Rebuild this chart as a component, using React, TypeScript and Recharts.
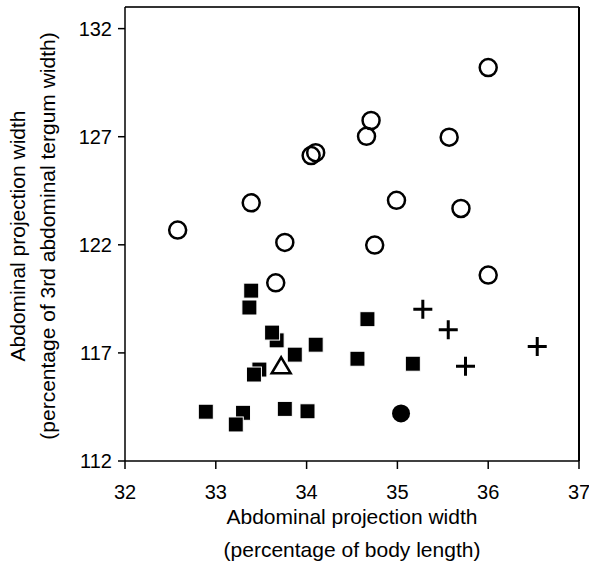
import React from "react";
import {
  ScatterChart,
  Scatter,
  XAxis,
  YAxis,
  ReferenceLine,
} from "recharts";

interface Pt {
  x: number;
  y: number;
}

// open circles
const openCircles: Pt[] = [
  { x: 32.58, y: 122.68 },
  { x: 33.39, y: 123.94 },
  { x: 33.76, y: 122.11 },
  { x: 33.66, y: 120.24 },
  { x: 34.05, y: 126.13 },
  { x: 34.1, y: 126.26 },
  { x: 34.66, y: 127.02 },
  { x: 34.71, y: 127.75 },
  { x: 34.75, y: 121.99 },
  { x: 34.99, y: 124.06 },
  { x: 35.57, y: 126.98 },
  { x: 35.7, y: 123.68 },
  { x: 36.0, y: 130.2 },
  { x: 36.0, y: 120.6 },
];

// filled squares (hidden ones first)
const squares: Pt[] = [
  { x: 33.67, y: 117.58 },
  { x: 33.48, y: 116.23 },
  { x: 33.3, y: 114.23 },
  { x: 33.39, y: 119.88 },
  { x: 33.37, y: 119.1 },
  { x: 33.62, y: 117.94 },
  { x: 34.1, y: 117.38 },
  { x: 33.87, y: 116.92 },
  { x: 34.67, y: 118.56 },
  { x: 34.56, y: 116.73 },
  { x: 33.42, y: 116.0 },
  { x: 32.89, y: 114.28 },
  { x: 33.22, y: 113.69 },
  { x: 33.76, y: 114.41 },
  { x: 34.01, y: 114.3 },
  { x: 35.17, y: 116.5 },
];

const triangles: Pt[] = [{ x: 33.72, y: 116.38 }];

const filledCircles: Pt[] = [{ x: 35.04, y: 114.2 }];

const crosses: Pt[] = [
  { x: 35.28, y: 119.02 },
  { x: 35.56, y: 118.07 },
  { x: 36.54, y: 117.3 },
  { x: 35.75, y: 116.38 },
];

const xTicks = [32, 33, 34, 35, 36, 37];
const yTicks = [112, 117, 122, 127, 132];

const font = "Arial, 'Liberation Sans', sans-serif";

const OpenCircle = (p: any) => (
  <circle cx={p.cx} cy={p.cy} r={8.5} fill="none" stroke="#000" strokeWidth={2.5} />
);
const FilledCircle = (p: any) => <circle cx={p.cx} cy={p.cy} r={9} fill="#000" />;
const Square = (p: any) => (
  <rect x={p.cx - 7.5} y={p.cy - 7.5} width={15} height={15} fill="#000" stroke="#fff" strokeWidth={1} />
);
const Triangle = (p: any) => (
  <path
    d={`M${p.cx},${p.cy - 9} L${p.cx + 9.5},${p.cy + 7} L${p.cx - 9.5},${p.cy + 7} Z`}
    fill="none"
    stroke="#000"
    strokeWidth={2.5}
    strokeLinejoin="miter"
  />
);
const Cross = (p: any) => (
  <path
    d={`M${p.cx - 9.5},${p.cy} H${p.cx + 9.5} M${p.cx},${p.cy - 9.5} V${p.cy + 9.5}`}
    stroke="#000"
    strokeWidth={3}
  />
);

const XLabel = (props: any) => {
  const vb = props.viewBox;
  const cx = vb.x + vb.width / 2;
  return (
    <g fontFamily={font} fontSize={21} fill="#000">
      <text x={cx} y={524} textAnchor="middle">
        Abdominal projection width
      </text>
      <text x={cx} y={557} textAnchor="middle">
        (percentage of body length)
      </text>
    </g>
  );
};

const YLabel = () => {
  const cy = 236;
  return (
    <g fontFamily={font} fontSize={21} fill="#000">
      <text x={17} y={cy} textAnchor="middle" dominantBaseline="central" transform={`rotate(-90 17 ${cy})`}>
        Abdominal projection width
      </text>
      <text x={47} y={cy} textAnchor="middle" dominantBaseline="central" transform={`rotate(-90 47 ${cy})`}>
        (percentage of 3rd abdominal tergum width)
      </text>
    </g>
  );
};

const tickStyle = { fontSize: 20, fontFamily: font, fill: "#000" };

export default function App() {
  return (
    <div style={{ position: "absolute", left: 0, top: 0, background: "#fff" }}>
      <ScatterChart
        width={589}
        height={566}
        margin={{ top: 7, right: 10, bottom: 0, left: 0 }}
      >
        <XAxis
          type="number"
          dataKey="x"
          domain={[32, 37]}
          ticks={xTicks}
          interval={0}
          height={105}
          tickSize={8}
          tickMargin={16}
          tick={tickStyle}
          axisLine={{ stroke: "#000", strokeWidth: 1.5 }}
          tickLine={{ stroke: "#000", strokeWidth: 1.5 }}
          allowDataOverflow
          label={{ content: XLabel }}
        />
        <YAxis
          type="number"
          dataKey="y"
          domain={[112, 133]}
          ticks={yTicks}
          interval={0}
          width={125}
          tickSize={7}
          tickMargin={6}
          tick={tickStyle}
          axisLine={{ stroke: "#000", strokeWidth: 1.5 }}
          tickLine={{ stroke: "#000", strokeWidth: 1.5 }}
          allowDataOverflow
          label={{ content: YLabel }}
        />
        <ReferenceLine y={133} stroke="#333" strokeWidth={2} />
        <ReferenceLine x={37} stroke="#000" strokeWidth={2} />
        <Scatter data={openCircles} shape={OpenCircle} isAnimationActive={false} />
        <Scatter data={squares} shape={Square} isAnimationActive={false} />
        <Scatter data={triangles} shape={Triangle} isAnimationActive={false} />
        <Scatter data={filledCircles} shape={FilledCircle} isAnimationActive={false} />
        <Scatter data={crosses} shape={Cross} isAnimationActive={false} />
      </ScatterChart>
    </div>
  );
}
